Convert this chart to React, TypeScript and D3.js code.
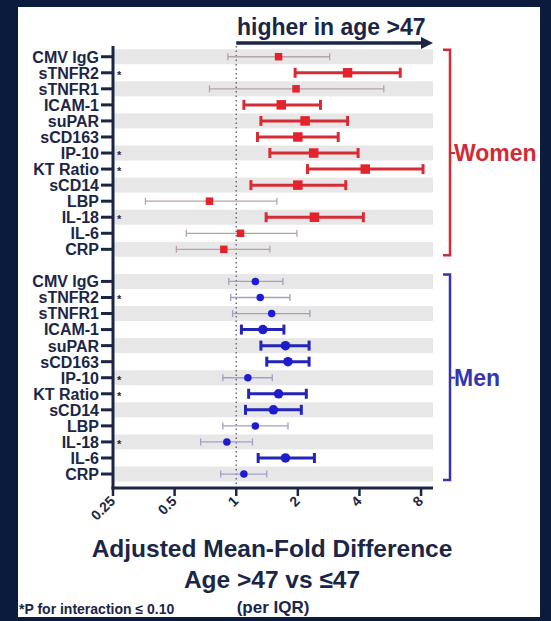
import React from "react";
import * as d3 from "d3";

// Biomarkers, top to bottom, repeated for each sex
const markers = [
  "CMV IgG", "sTNFR2", "sTNFR1", "ICAM-1", "suPAR", "sCD163", "IP-10",
  "KT Ratio", "sCD14", "LBP", "IL-18", "IL-6", "CRP",
];
// Markers with P for interaction <= 0.10
const interactionMarkers = ["sTNFR2", "IP-10", "KT Ratio", "IL-18"];

// Women: adjusted mean-fold difference and 95% CI
const womenFold = [1.61, 3.5, 1.96, 1.66, 2.17, 2.0, 2.39, 4.27, 2.0, 0.74, 2.41, 1.05, 0.87];
const womenLower = [0.91, 1.94, 0.74, 1.09, 1.32, 1.27, 1.46, 2.23, 1.18, 0.36, 1.4, 0.57, 0.51];
const womenUpper = [2.86, 6.33, 5.26, 2.58, 3.5, 3.15, 3.94, 8.18, 3.43, 1.58, 4.18, 1.98, 1.46];
const womenSignificant = [false, true, false, true, true, true, true, true, true, false, true, false, false];

// Men: adjusted mean-fold difference and 95% CI
const menFold = [1.24, 1.31, 1.49, 1.35, 1.74, 1.79, 1.14, 1.61, 1.52, 1.24, 0.9, 1.74, 1.09];
const menLower = [0.92, 0.94, 0.96, 1.06, 1.32, 1.41, 0.86, 1.15, 1.11, 0.86, 0.67, 1.28, 0.84];
const menUpper = [1.69, 1.83, 2.29, 1.71, 2.27, 2.27, 1.5, 2.2, 2.08, 1.79, 1.2, 2.41, 1.41];
const menSignificant = [false, false, false, true, true, true, false, true, true, false, false, true, false];

const xTicks = [0.25, 0.5, 1, 2, 4, 8];
const xTickLabels = ["0.25", "0.5", "1", "2", "4", "8"];
const xMax = 9.15;

const W = 551;
const H = 621;
const plotLeft = 113;
const plotRight = 433;
const plotTop = 46;
const axisY = 488;

const navy = "#1b2646";
const font = "'Liberation Sans', Arial, sans-serif";

type Group = {
  name: string;
  offset: number;
  fold: number[];
  lower: number[];
  upper: number[];
  sig: boolean[];
  shape: "square" | "circle";
  marker: string;
  line: string;
  faint: string;
  label: string;
};

const groups: Group[] = [
  {
    name: "Women", offset: 0, fold: womenFold, lower: womenLower, upper: womenUpper,
    sig: womenSignificant, shape: "square", marker: "#e3232b", line: "#d72c35",
    faint: "#b9a2a6", label: "#d22b36",
  },
  {
    name: "Men", offset: 14, fold: menFold, lower: menLower, upper: menUpper,
    sig: menSignificant, shape: "circle", marker: "#1d1dcf", line: "#2424b6",
    faint: "#a0a0c4", label: "#3434b4",
  },
];

export default function App() {
  const x = d3.scaleLog().base(2).domain([0.25, xMax]).range([plotLeft, plotRight]);
  const slots = d3.range(markers.length * 2 + 1);
  const y = d3.scaleBand<number>().domain(slots).range([48.7, 482.05]);
  const yc = (i: number) => (y(i) as number) + y.bandwidth() / 2;
  const bandH = 15;

  const rows = groups.flatMap((g) =>
    markers.map((m, i) => ({ g, m, i, slot: g.offset + i }))
  );

  return (
    <svg
      width={W}
      height={H}
      viewBox={`0 0 ${W} ${H}`}
      style={{ position: "absolute", left: 0, top: 0, display: "block" }}
      fontFamily={font}
    >
      <rect x={0} y={0} width={W} height={H} fill="#0b1b3e" />
      <rect x={18} y={7} width={522} height={610} fill="#ffffff" />

      {/* alternating row shading */}
      {rows
        .filter((r) => r.i % 2 === 0)
        .map((r) => (
          <rect
            key={`band-${r.slot}`}
            x={plotLeft}
            y={yc(r.slot) - bandH / 2}
            width={plotRight - plotLeft}
            height={bandH}
            fill="#e7e7e7"
          />
        ))}

      {/* reference line at no difference */}
      <line
        x1={x(1)}
        x2={x(1)}
        y1={plotTop}
        y2={axisY}
        stroke="#555a66"
        strokeWidth={1.3}
        strokeDasharray="1.5 3"
      />

      {/* confidence intervals and estimates */}
      {rows.map((r) => {
        const { g, i, slot } = r;
        const cy = yc(slot);
        const sig = g.sig[i];
        const col = sig ? g.line : g.faint;
        const lw = sig ? 3 : 1.3;
        const cap = sig ? 10 : 7;
        const x0 = x(g.lower[i]);
        const x1 = x(g.upper[i]);
        const cx = x(g.fold[i]);
        const size = sig ? 9.5 : 7.5;
        return (
          <g key={`ci-${slot}`}>
            <line x1={x0} x2={x1} y1={cy} y2={cy} stroke={col} strokeWidth={lw} />
            <line x1={x0} x2={x0} y1={cy - cap / 2} y2={cy + cap / 2} stroke={col} strokeWidth={lw} />
            <line x1={x1} x2={x1} y1={cy - cap / 2} y2={cy + cap / 2} stroke={col} strokeWidth={lw} />
            {g.shape === "square" ? (
              <rect x={cx - size / 2} y={cy - size / 2} width={size} height={size} fill={g.marker} />
            ) : (
              <circle cx={cx} cy={cy} r={size / 2} fill={g.marker} />
            )}
          </g>
        );
      })}

      {/* y axis */}
      <line x1={plotLeft} x2={plotLeft} y1={plotTop} y2={axisY + 1.5} stroke={navy} strokeWidth={3} />
      {rows.map((r) => (
        <g key={`yt-${r.slot}`}>
          <line x1={plotLeft - 12} x2={plotLeft} y1={yc(r.slot)} y2={yc(r.slot)} stroke={navy} strokeWidth={3} />
          <text
            x={plotLeft - 14}
            y={yc(r.slot)}
            dy="0.37em"
            textAnchor="end"
            fontSize={16}
            fontWeight="bold"
            fill={navy}
          >
            {r.m}
          </text>
          {interactionMarkers.includes(r.m) && (
            <text x={plotLeft + 4} y={yc(r.slot) + 6} fontSize={11} fontWeight="bold" fill={navy}>
              *
            </text>
          )}
        </g>
      ))}

      {/* x axis */}
      <line x1={plotLeft - 1.5} x2={plotRight} y1={axisY} y2={axisY} stroke={navy} strokeWidth={3} />
      {xTicks.map((t, k) => (
        <g key={`xt-${t}`}>
          <line x1={x(t)} x2={x(t)} y1={axisY} y2={axisY + 8} stroke={navy} strokeWidth={2.5} />
          <text
            transform={`translate(${x(t) + 3},${axisY + 14}) rotate(-45)`}
            textAnchor="end"
            fontSize={14}
            fontWeight="bold"
            fill={navy}
          >
            {xTickLabels[k]}
          </text>
        </g>
      ))}

      {/* direction arrow */}
      <text x={237} y={35} fontSize={23} fontWeight="bold" fill={navy}>
        higher in age &gt;47
      </text>
      <line x1={x(1)} x2={plotRight - 8} y1={43} y2={43} stroke={navy} strokeWidth={3.5} />
      <path
        d={`M${plotRight},43 L${plotRight - 12},37 L${plotRight - 12},49 Z`}
        fill={navy}
      />

      {/* group brackets */}
      {groups.map((g) => {
        const top = yc(g.offset) - 7;
        const bottom = yc(g.offset + markers.length - 1) + 6;
        const mid = yc(g.offset + 6);
        const bx = 450;
        return (
          <g key={`br-${g.name}`}>
            <path
              d={`M${bx - 7},${top} L${bx},${top} L${bx},${bottom} L${bx - 7},${bottom}`}
              fill="none"
              stroke={g.label}
              strokeWidth={2.5}
            />
            <line x1={bx} x2={bx + 5} y1={mid} y2={mid} stroke={g.label} strokeWidth={2} />
            <text x={bx + 4} y={mid} dy="0.36em" fontSize={23} fontWeight="bold" fill={g.label}>
              {g.name}
            </text>
          </g>
        );
      })}

      {/* axis titles */}
      <text x={272} y={557} textAnchor="middle" fontSize={24.5} fontWeight="bold" fill={navy}>
        Adjusted Mean-Fold Difference
      </text>
      <text x={272} y={588} textAnchor="middle" fontSize={24.5} fontWeight="bold" fill={navy}>
        Age &gt;47 vs ≤47
      </text>
      <text x={273} y={613} textAnchor="middle" fontSize={17} fontWeight="bold" fill={navy}>
        (per IQR)
      </text>
      <text x={19} y={614} fontSize={14} fontWeight="bold" fill={navy}>
        *P for interaction ≤ 0.10
      </text>
    </svg>
  );
}
